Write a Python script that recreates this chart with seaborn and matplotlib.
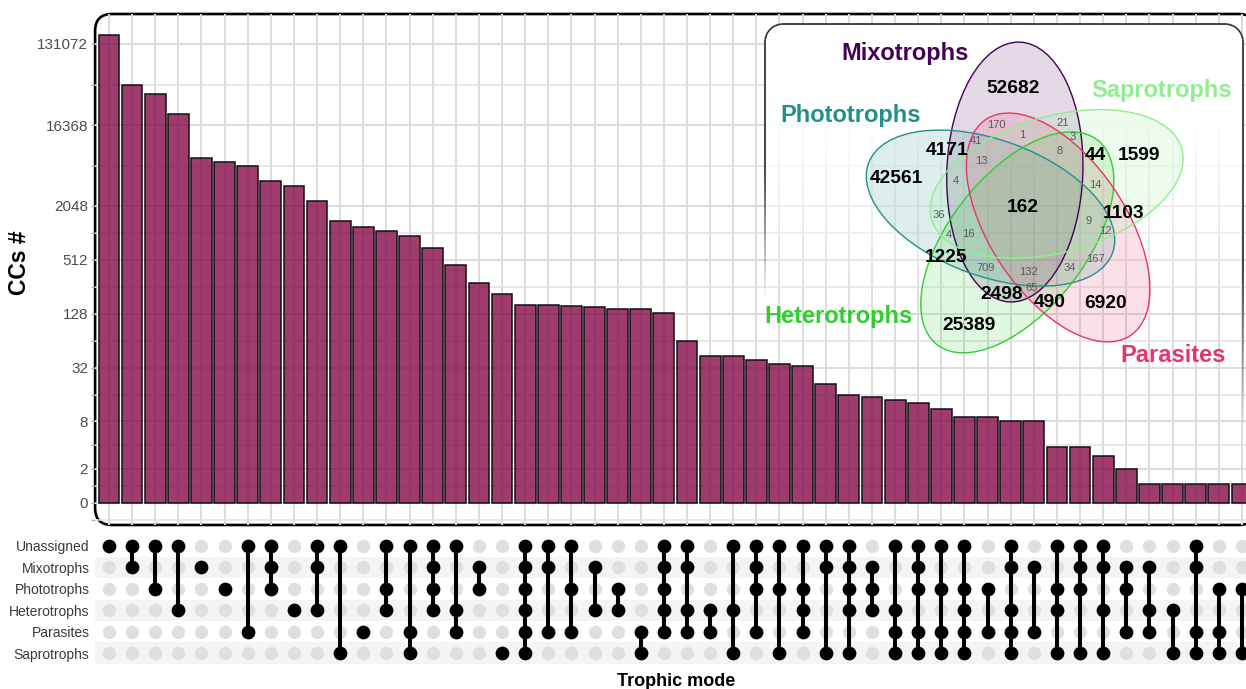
import numpy as np
import pandas as pd
import matplotlib
matplotlib.use("Agg")
import matplotlib.pyplot as plt
import seaborn as sns
from matplotlib.patches import Ellipse, FancyBboxPatch
from matplotlib.collections import LineCollection

# ---------------- data ----------------
trophic_modes = ["Unassigned", "Mixotrophs", "Phototrophs", "Heterotrophs", "Parasites", "Saprotrophs"]
abbrev = {"U": "Unassigned", "M": "Mixotrophs", "Ph": "Phototrophs",
          "H": "Heterotrophs", "Pa": "Parasites", "S": "Saprotrophs"}
intersections = [
    "U", "U M", "U Ph", "U H", "M", "Ph", "U Pa", "U M Ph", "H", "U M H",
    "U S", "Pa", "U Ph H", "U Pa S", "U M Ph H", "U H Pa", "M Ph", "S",
    "U M Ph H Pa S", "U M Pa", "U Ph Pa", "M H", "Ph H", "Pa S", "U M Ph H Pa",
    "U M H Pa", "H Pa", "U H S", "U M Ph Pa", "U Ph S", "U Ph H Pa", "U M S",
    "U M Ph H S", "M Ph H", "U H Pa S", "U M Ph Pa S", "U Ph Pa S", "U Ph H Pa S",
    "Ph Pa", "U M H Pa S", "M Pa", "U Ph H S", "U M Ph S", "U M H S", "M Ph Pa",
    "M H Pa", "H S", "U M Pa S", "Ph Pa S", "Ph S"]
cc_counts = [164800, 45658, 36271, 21940, 7024, 6290, 5716, 3885, 3449, 2344,
             1387, 1204, 1080, 959, 694, 446, 286, 212,
             162, 162, 158, 154, 145, 144, 130,
             64, 44, 43, 39, 35, 34, 21,
             16, 15, 14, 13, 11, 9,
             9, 8, 8, 4, 4, 3, 2,
             1, 1, 1, 1, 1]
y_breaks = [0, 2, 8, 32, 128, 512, 2048, 16368, 131072]
y_break_labels = ["0", "2", "8", "32", "128", "512", "2048", "16368", "131072"]

venn_sets = ["Mixotrophs", "Phototrophs", "Heterotrophs", "Parasites", "Saprotrophs"]
venn_colors = ["#440154", "#21908C", "#32CD32", "#E8336B", "#90EE90"]
venn_big_counts = ["52682", "42561", "1599", "25389", "6920", "4171", "44", "1103",
                   "1225", "2498", "490", "162"]
venn_small_counts = ["170", "21", "1", "3", "41", "8", "13", "4", "14", "36", "9",
                     "12", "4", "16", "167", "709", "34", "132", "65"]

# ---------------- layout constants (pixels) ----------------
W, H = 1246, 689
bar_color = (134 / 255, 11 / 255, 74 / 255, 0.8)
venn_set_label_pos = [(904.7, 53.3), (850.3, 115.7), (838.3, 316.7), (1173.3, 355.0), (1161.7, 91.0)]
venn_big_pos = [(1012.7, 87.3), (896.7, 177.7), (1139.3, 154.3), (969.3, 324.0), (1105.7, 302.7),
                (946.7, 149.3), (1095.0, 154.3), (1123.3, 212.7), (946.0, 256.7), (1001.7, 293.3),
                (1050.0, 301.7), (1022.7, 206.7)]
venn_small_pos = [(996.7, 125.0), (1062.3, 122.3), (1022.3, 134.3), (1072.7, 137.0), (976.0, 141.0),
                  (1059.3, 151.0), (981.7, 161.0), (956.0, 181.0), (1095.0, 184.0), (939.3, 214.0),
                  (1088.3, 221.0), (1105.7, 230.7), (949.3, 234.3), (968.3, 233.3), (1095.7, 259.0),
                  (985.7, 267.3), (1069.3, 267.3), (1028.3, 271.7), (1031.7, 287.7)]
venn_center = (1027.5, 206.8)
venn_offset = 37.0
venn_phi = [110, 182, 254, 326, 38]          # centre directions (math angles)
venn_theta = [-87.8, -159.8, -231.8, -303.8, -375.8]  # long-axis angles (y-down)

sns.set_theme(style="white")
plt.rcParams["font.family"] = ["Liberation Sans", "DejaVu Sans"]


def frac(l, t, r, b):
    return [l / W, 1 - b / H, (r - l) / W, (b - t) / H]


fig = plt.figure(figsize=(W / 100, H / 100), dpi=100)

# background axes for the rounded panel border
ax_bg = fig.add_axes([0, 0, 1, 1], zorder=0)
ax_bg.set_xlim(0, W)
ax_bg.set_ylim(H, 0)
ax_bg.axis("off")
L, T, R, B = 95.1, 14.0, 1255.8, 525.0
ax_bg.add_patch(FancyBboxPatch((L, T), R - L, B - T, boxstyle="round,pad=0,rounding_size=17",
                               facecolor="white", edgecolor="black", linewidth=1.9))

# ---------------- bar panel ----------------
ax = fig.add_axes(frac(L, T, R, B), zorder=1)
ax.patch.set_alpha(0)
df = pd.DataFrame({"intersection": intersections, "CCs": cc_counts})
sns.barplot(data=df, x="intersection", y="CCs", order=intersections, color="#860B4A",
            saturation=1, width=0.9, errorbar=None, ax=ax)
for p in ax.patches:
    p.set_facecolor(bar_color)
    p.set_edgecolor("#111111")
    p.set_linewidth(1.1)
    p.set_zorder(2)

ln2 = np.log(2)
fwd = lambda v: np.arcsinh(np.asarray(v, dtype=float) / 2) / ln2
inv = lambda t: 2 * np.sinh(np.asarray(t, dtype=float) * ln2)
ax.set_yscale("function", functions=(fwd, inv))
px_per_unit = 27.0
zero_px = 503.0
ax.set_ylim(inv(-(B - zero_px) / px_per_unit), inv((zero_px - T) / px_per_unit))
ax.set_xlim(-0.6, len(intersections) - 0.4)

tb = fwd(y_breaks)
mids = np.concatenate([[tb[0] - (tb[1] - tb[0]) / 2], (tb[:-1] + tb[1:]) / 2])
ax.set_yticks(y_breaks)
ax.set_yticklabels(y_break_labels)
ax.set_yticks(inv(mids), minor=True)
ax.set_xticks(range(len(intersections)))
ax.set_axisbelow(True)
ax.grid(True, which="major", color="#DCDCDC", linewidth=1.4)
ax.grid(True, which="minor", axis="y", color="#E2E2E2", linewidth=1.1)
ax.tick_params(axis="x", length=0, labelbottom=False)
ax.tick_params(axis="y", which="both", length=3, width=0.9, color="#B0B0B0",
               labelsize=11, labelcolor="#4D4D4D", pad=2, left=True)
ax.set_xlabel("")
ax.set_ylabel("")
for s in ax.spines.values():
    s.set_visible(False)

# ---------------- matrix panel ----------------
axm = fig.add_axes(frac(L, 535.3, R, 663.7), zorder=1)
axm.patch.set_alpha(0)
for r in (1, 3, 5):
    axm.axhspan(r - 0.5, r + 0.5, color="#F4F4F4", zorder=0, lw=0)
rows = []
for i, key in enumerate(intersections):
    members = [abbrev[k] for k in key.split()]
    for j, tm in enumerate(trophic_modes):
        rows.append({"x": i, "row": j, "active": tm in members})
mdf = pd.DataFrame(rows)
sns.scatterplot(data=mdf, x="x", y="row", color="#DFDFDF", s=92, linewidth=0, ax=axm, zorder=2)
act = mdf[mdf["active"]]
rng = act.groupby("x")["row"].agg(["min", "max"]).reset_index()
axm.vlines(rng["x"], rng["min"], rng["max"], color="black", linewidth=2.9, zorder=3)
sns.scatterplot(data=act, x="x", y="row", color="black", s=98, linewidth=0, ax=axm, zorder=4)
axm.set_xlim(-0.6, len(intersections) - 0.4)
axm.set_ylim(5.5, -0.5)
axm.set_yticks(range(len(trophic_modes)))
axm.set_yticklabels(trophic_modes)
axm.set_xticks([])
axm.tick_params(axis="y", length=0, labelsize=10, labelcolor="#3A3A3A", pad=4)
axm.set_xlabel("")
axm.set_ylabel("")
for s in axm.spines.values():
    s.set_visible(False)

fig.text(19 / W, 1 - 263 / H, "CCs #", rotation=90, fontsize=16.5, fontweight="bold",
         ha="center", va="center", color="black")
fig.text(676 / W, 1 - 681 / H, "Trophic mode", fontsize=13, fontweight="bold",
         ha="center", va="center", color="black")

# ---------------- Venn inset ----------------
axo = fig.add_axes([0, 0, 1, 1], zorder=3)
axo.patch.set_alpha(0)
axo.axis("off")
bx0, by0, bx1, by1, rr = 765.0, 24.0, 1243.0, 524.0, 18.0
clip_box = FancyBboxPatch((bx0, by0), bx1 - bx0, by1 - by0, boxstyle=f"round,pad=0,rounding_size={rr}",
                          facecolor="none", edgecolor="none")
axo.add_patch(clip_box)
ys = np.linspace(by0, 420, 400)
alpha = np.clip((320 - ys) / (320 - 110), 0, 1)
img = np.ones((len(ys), 2, 4))
img[..., 3] = alpha[:, None]
im = axo.imshow(img, extent=(bx0, bx1, 420, by0), aspect="auto", interpolation="bilinear", zorder=1)
im.set_clip_path(clip_box)

pts = [(bx0, y) for y in np.linspace(320, by0 + rr, 60)]
pts += [(bx0 + rr + rr * np.cos(a), by0 + rr + rr * np.sin(a)) for a in np.linspace(np.pi, 1.5 * np.pi, 12)]
pts += [(x, by0) for x in np.linspace(bx0 + rr, bx1 - rr, 40)]
pts += [(bx1 - rr + rr * np.cos(a), by0 + rr + rr * np.sin(a)) for a in np.linspace(1.5 * np.pi, 2 * np.pi, 12)]
pts += [(bx1, y) for y in np.linspace(by0 + rr, 430, 60)]
pts = np.array(pts)


def edge_alpha(p):
    x, y = p
    if x < 1000:
        return float(np.clip((300 - y) / 130, 0, 1))
    return float(np.clip((430 - y) / 160, 0, 1))


segs, cols = [], []
for a, b in zip(pts[:-1], pts[1:]):
    segs.append([a, b])
    cols.append((0.15, 0.15, 0.15, (edge_alpha(a) + edge_alpha(b)) / 2))
axo.add_collection(LineCollection(segs, colors=cols, linewidths=1.2, zorder=2))

for name, col, phi, th in zip(venn_sets, venn_colors, venn_phi, venn_theta):
    cx = venn_center[0] + venn_offset * np.cos(np.radians(phi))
    cy = venn_center[1] - venn_offset * np.sin(np.radians(phi))
    axo.add_patch(Ellipse((cx, cy), 260, 136, angle=th, facecolor=col, alpha=0.15,
                          edgecolor="none", zorder=3))
    axo.add_patch(Ellipse((cx, cy), 260, 136, angle=th, facecolor="none",
                          edgecolor=col, linewidth=1.0, zorder=4))

for name, col, (x, y) in zip(venn_sets, venn_colors, venn_set_label_pos):
    axo.text(x, y, name, color=col, fontsize=17, fontweight="bold", ha="center", va="center", zorder=6)
for lab, (x, y) in zip(venn_big_counts, venn_big_pos):
    axo.text(x, y + 1, lab, color="black", fontsize=13.8, fontweight="bold", ha="center", va="center", zorder=6)
for lab, (x, y) in zip(venn_small_counts, venn_small_pos):
    axo.text(x, y + 0.5, lab, color="#5A5A5A", fontsize=8, ha="center", va="center", zorder=6)

axo.set_xlim(0, W)
axo.set_ylim(H, 0)

fig.savefig("out.png", dpi=100)
